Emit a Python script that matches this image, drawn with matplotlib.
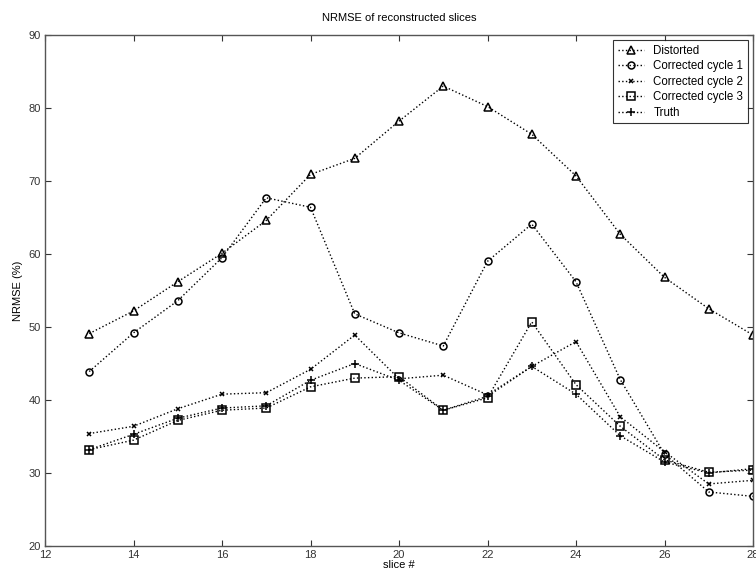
import matplotlib
matplotlib.use("Agg")
import matplotlib.pyplot as plt
import numpy as np

plt.rcParams['font.family'] = ['Liberation Sans', 'DejaVu Sans']

slices = np.arange(13, 29)

distorted = [49.1, 52.2, 56.2, 60.1, 64.6, 70.9, 73.1, 78.2,
             83.0, 80.2, 76.4, 70.7, 62.7, 56.8, 52.5, 48.9]
cycle1 = [43.9, 49.2, 53.6, 59.5, 67.7, 66.4, 51.8, 49.2,
          47.4, 59.0, 64.1, 56.2, 42.8, 32.6, 27.4, 26.8]
cycle2 = [35.4, 36.4, 38.8, 40.8, 41.0, 44.2, 48.9, 42.9,
          43.4, 40.7, 44.6, 48.0, 37.7, 32.9, 28.5, 29.0]
cycle3 = [33.2, 34.5, 37.2, 38.6, 38.9, 41.8, 43.0, 43.2,
          38.6, 40.3, 50.7, 42.1, 36.4, 31.8, 30.1, 30.4]
truth = [33.2, 35.3, 37.5, 38.9, 39.2, 42.7, 45.0, 42.7,
         38.6, 40.5, 44.6, 40.8, 35.1, 31.5, 30.0, 30.6]

series = [
    ("Distorted", distorted, "^"),
    ("Corrected cycle 1", cycle1, "o"),
    ("Corrected cycle 2", cycle2, "x"),
    ("Corrected cycle 3", cycle3, "s"),
    ("Truth", truth, "+"),
]

fig = plt.figure(figsize=(7.56, 5.73), dpi=100)
ax = fig.add_axes([45 / 756, 27 / 573, 708 / 756, 511 / 573])

for name, vals, mk in series:
    ms = {"x": 3.5, "o": 5, "s": 5.5, "^": 6, "+": 6}[mk]
    ax.plot(slices, vals, linestyle=":", color="black", linewidth=1.0,
            marker=mk, markersize=ms, markerfacecolor="none",
            markeredgecolor="black", markeredgewidth=1.1, label=name)

ax.set_xlim(12, 28)
ax.set_ylim(20, 90)
ax.set_xticks(np.arange(12, 29, 2))
ax.set_yticks(np.arange(20, 91, 10))
ax.tick_params(direction="in", length=4, top=True, right=True,
               labelsize=8, colors="#333333", pad=3)
for sp in ax.spines.values():
    sp.set_color("#555555")
    sp.set_linewidth(1.0)

ax.set_title("NRMSE of reconstructed slices", fontsize=8, pad=10)
ax.set_xlabel("slice #", fontsize=8, labelpad=0)
ax.set_ylabel("NRMSE (%)", fontsize=8, labelpad=4)

leg = ax.legend(loc="upper right", fontsize=8.3, frameon=True, fancybox=False,
                handlelength=2.3, handletextpad=0.8, borderpad=0.4,
                labelspacing=0.3, borderaxespad=0.45)
leg.get_frame().set_edgecolor("black")
leg.get_frame().set_linewidth(0.8)

fig.savefig("out.png", dpi=100)
